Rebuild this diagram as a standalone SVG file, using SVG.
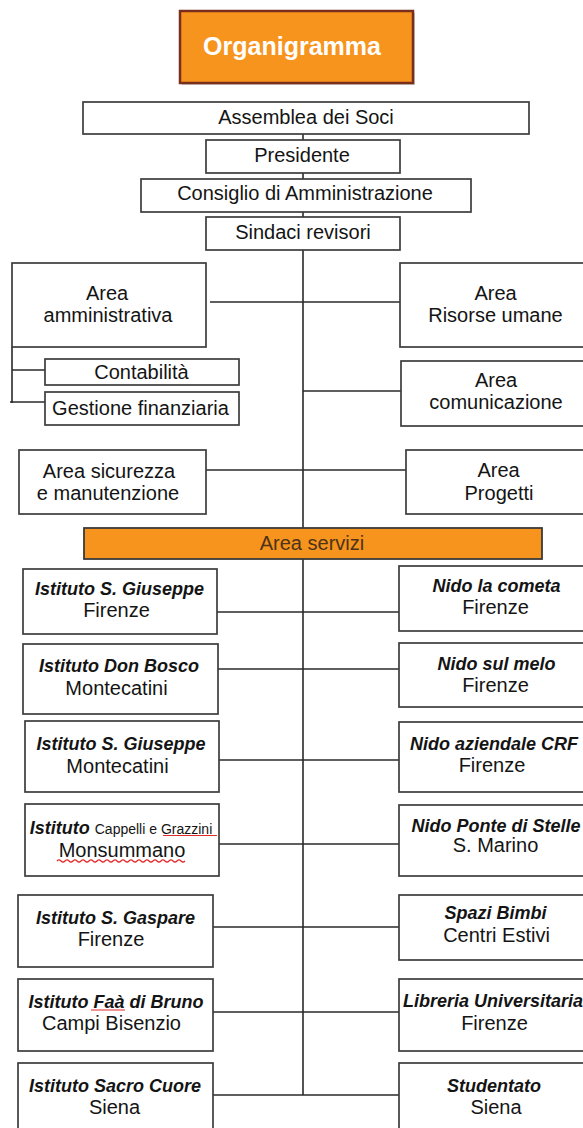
<svg xmlns="http://www.w3.org/2000/svg" width="583" height="1128" viewBox="0 0 583 1128">
<style>
.b{fill:#fff;stroke:#3c3c3c;stroke-width:1.7}
.c{stroke:#2a2a2a;stroke-width:1.6;fill:none}
.t{font-family:"Liberation Sans",Arial,sans-serif;font-size:20px;fill:#141414;text-anchor:middle}
.bi{font-weight:bold;font-style:italic;font-size:18px}
.sm{font-size:14px;font-style:normal;font-weight:normal}
.sq{stroke:#e02828;stroke-width:1.2;fill:none}
</style>
<rect width="583" height="1128" fill="#fff"/>
<g id="connectors">
<line class="c" x1="303" y1="134" x2="303" y2="1095"/>
<line class="c" x1="210" y1="302" x2="400" y2="302"/>
<line class="c" x1="303" y1="391" x2="401" y2="391"/>
<line class="c" x1="206" y1="470" x2="406" y2="470"/>
<polyline class="c" points="12,347 12,403"/>
<line class="c" x1="12" y1="370" x2="45" y2="370"/>
<line class="c" x1="10" y1="402" x2="45" y2="402"/>
<line class="c" x1="217" y1="612" x2="399" y2="612"/>
<line class="c" x1="218" y1="669" x2="399" y2="669"/>
<line class="c" x1="219" y1="760" x2="399" y2="760"/>
<line class="c" x1="219" y1="844" x2="399" y2="844"/>
<line class="c" x1="213" y1="927" x2="399" y2="927"/>
<line class="c" x1="213" y1="1012" x2="399" y2="1012"/>
<line class="c" x1="213" y1="1095" x2="399" y2="1095"/>
</g>
<g id="title">
<rect x="182" y="13" width="233" height="72" fill="#b0a8a0" opacity="0.6"/>
<rect x="180" y="11" width="233" height="72" fill="#F7941D" stroke="#7a2f1c" stroke-width="2.5"/>
<text x="292" y="55" font-family="'Liberation Sans',Arial,sans-serif" font-size="25" font-weight="bold" fill="#fff" text-anchor="middle">Organigramma</text>
</g>
<g id="assemblea"><rect class="b" x="83" y="102" width="446" height="32"/><text class="t" x="306" y="124">Assemblea dei Soci</text></g>
<g id="presidente"><rect class="b" x="206" y="140" width="194" height="33"/><text class="t" x="302" y="162">Presidente</text></g>
<g id="consiglio"><rect class="b" x="141" y="179" width="330" height="33"/><text class="t" x="305" y="200">Consiglio di Amministrazione</text></g>
<g id="sindaci"><rect class="b" x="206" y="217" width="194" height="33"/><text class="t" x="303" y="238.5">Sindaci revisori</text></g>
<g id="area-amministrativa"><rect class="b" x="12" y="263" width="194" height="84"/><text class="t" x="107" y="300">Area</text><text class="t" x="108" y="321.5">amministrativa</text></g>
<g id="area-risorse"><rect class="b" x="400" y="263" width="192" height="84"/><text class="t" x="495.5" y="300">Area</text><text class="t" x="495.5" y="321.5">Risorse umane</text></g>
<g id="contabilita"><rect class="b" x="45" y="359" width="194" height="26"/><text class="t" x="141.5" y="379">Contabilità</text></g>
<g id="gestione"><rect class="b" x="45" y="392" width="194" height="33"/><text class="t" x="140.5" y="414.5">Gestione finanziaria</text></g>
<g id="area-comunicazione"><rect class="b" x="401" y="361" width="192" height="65"/><text class="t" x="496" y="386.5">Area</text><text class="t" x="496" y="409">comunicazione</text></g>
<g id="area-sicurezza"><rect class="b" x="19" y="450" width="187" height="64"/><text class="t" x="109" y="477.5">Area sicurezza</text><text class="t" x="108" y="500">e manutenzione</text></g>
<g id="area-progetti"><rect class="b" x="406" y="450" width="187" height="64"/><text class="t" x="498.5" y="477">Area</text><text class="t" x="499" y="499.5">Progetti</text></g>
<g id="area-servizi"><rect x="84" y="528" width="458" height="31" fill="#F7941D" stroke="#3a3a3a" stroke-width="1.8"/><text class="t" x="312" y="550" style="fill:#4d3319">Area servizi</text></g>
<g id="s-giuseppe-fi"><rect class="b" x="23" y="569" width="194" height="65"/><text class="t bi" x="119.5" y="595">Istituto S. Giuseppe</text><text class="t" x="116.5" y="617">Firenze</text></g>
<g id="don-bosco"><rect class="b" x="23" y="644" width="195" height="70"/><text class="t bi" x="119" y="672">Istituto Don Bosco</text><text class="t" x="116.5" y="695">Montecatini</text></g>
<g id="s-giuseppe-mo"><rect class="b" x="25" y="721" width="194" height="71"/><text class="t bi" x="121" y="750">Istituto S. Giuseppe</text><text class="t" x="117.5" y="772.5">Montecatini</text></g>
<g id="cappelli"><rect class="b" x="25" y="804" width="194" height="72"/><text class="t bi" x="121" y="834">Istituto <tspan class="sm">Cappelli e Grazzini</tspan></text><text class="t" x="122" y="857">Monsummano</text>
<line class="sq" x1="163" y1="835.5" x2="217" y2="835.5"/>
<path class="sq" d="M57,861 q2,-2 4,0 t4,0 t4,0 t4,0 t4,0 t4,0 t4,0 t4,0 t4,0 t4,0 t4,0 t4,0 t4,0 t4,0 t4,0 t4,0 t4,0 t4,0 t4,0 t4,0 t4,0 t4,0 t4,0 t4,0 t4,0 t4,0 t4,0 t4,0 t4,0 t4,0 t4,0 t4,0"/></g>
<g id="s-gaspare"><rect class="b" x="18" y="895" width="195" height="72"/><text class="t bi" x="115.5" y="924">Istituto S. Gaspare</text><text class="t" x="111" y="946">Firenze</text></g>
<g id="faa-di-bruno"><rect class="b" x="18" y="979" width="195" height="72"/><text class="t bi" x="116" y="1008">Istituto Faà di Bruno</text><text class="t" x="111.5" y="1029.5">Campi Bisenzio</text>
<line class="sq" x1="91" y1="1010" x2="125" y2="1010"/></g>
<g id="sacro-cuore"><rect class="b" x="18" y="1063" width="195" height="80"/><text class="t bi" x="115" y="1092">Istituto Sacro Cuore</text><text class="t" x="114.5" y="1113.5">Siena</text></g>
<g id="nido-cometa"><rect class="b" x="399" y="566" width="194" height="65"/><text class="t bi" x="496.5" y="592">Nido la cometa</text><text class="t" x="495.5" y="613.5">Firenze</text></g>
<g id="nido-melo"><rect class="b" x="399" y="643" width="194" height="64"/><text class="t bi" x="496.5" y="670">Nido sul melo</text><text class="t" x="495.5" y="692">Firenze</text></g>
<g id="nido-crf"><rect class="b" x="399" y="722" width="194" height="70"/><text class="t bi" x="494" y="749.5">Nido aziendale CRF</text><text class="t" x="492" y="772">Firenze</text></g>
<g id="nido-ponte"><rect class="b" x="399" y="805" width="194" height="71"/><text class="t bi" x="496" y="832">Nido Ponte di Stelle</text><text class="t" x="495.5" y="852">S. Marino</text></g>
<g id="spazi-bimbi"><rect class="b" x="399" y="895" width="194" height="65"/><text class="t bi" x="495.5" y="918.5">Spazi Bimbi</text><text class="t" x="496.5" y="942">Centri Estivi</text></g>
<g id="libreria"><rect class="b" x="399" y="979" width="194" height="72"/><text class="t bi" x="493" y="1007">Libreria Universitaria</text><text class="t" x="494.5" y="1030">Firenze</text></g>
<g id="studentato"><rect class="b" x="399" y="1063" width="194" height="80"/><text class="t bi" x="494" y="1092">Studentato</text><text class="t" x="496" y="1113.5">Siena</text></g>
</svg>
